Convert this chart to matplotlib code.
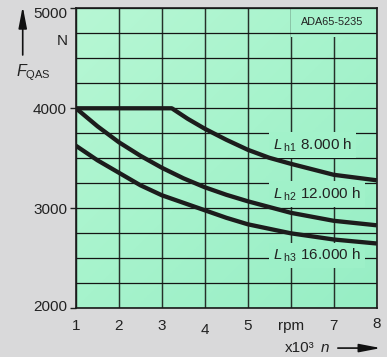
import numpy as np
import matplotlib
matplotlib.use("Agg")
import matplotlib.pyplot as plt
from matplotlib.colors import LinearSegmentedColormap
from matplotlib.transforms import ScaledTranslation

plt.rcParams['font.family'] = ['Liberation Sans', 'DejaVu Sans']
plt.rcParams['mathtext.fontset'] = 'custom'
plt.rcParams['mathtext.rm'] = 'Liberation Sans'
plt.rcParams['mathtext.it'] = 'Liberation Sans:italic'
plt.rcParams['mathtext.bf'] = 'Liberation Sans:bold'

# ---- data ----
n_h1 = [1, 3.23, 3.6, 4, 4.5, 5, 5.5, 6, 7, 8]
f_h1 = [4000, 4000, 3895, 3795, 3685, 3585, 3505, 3445, 3335, 3280]

n_h2 = [1, 1.5, 2, 2.5, 3, 3.5, 4, 4.5, 5, 6, 7, 8]
f_h2 = [4000, 3820, 3660, 3525, 3405, 3300, 3210, 3135, 3070, 2955, 2875, 2830]

n_h3 = [1, 1.5, 2, 2.5, 3, 3.5, 4, 4.5, 5, 6, 7, 8]
f_h3 = [3625, 3480, 3355, 3230, 3130, 3055, 2980, 2905, 2840, 2750, 2688, 2648]

x_ticks = [1, 2, 3, 4, 5, 6, 7, 8]
x_ticklabels = ['1', '2', '3', '4', '5', 'rpm', '7', '8']
y_ticks = [2000, 3000, 4000, 5000]
y_ticklabels = ['2000', '3000', '4000', '5000']

curve_labels = [r"$L_{\;\mathrm{h1}}$ 8.000 h", r"$L_{\;\mathrm{h2}}$ 12.000 h", r"$L_{\;\mathrm{h3}}$ 16.000 h"]
label_x = [5.59, 5.59, 5.59]
label_y = [3590, 3100, 2483]

# ---- figure ----
fig = plt.figure(figsize=(3.87, 3.57), dpi=100)
fig.patch.set_facecolor('#d9d9da')
ax = fig.add_axes([0.1964, 0.1364, 0.777, 0.8404])
ax.set_xlim(1, 8)
ax.set_ylim(2000, 5000)

# gradient background
cmap = LinearSegmentedColormap.from_list('g', ['#b7f7d4', '#a6f3cc', '#97eec5'])
gx, gy = np.meshgrid(np.linspace(0, 1, 200), np.linspace(0, 1, 200))
grad = (gx + gy) / 2
ax.imshow(grad, cmap=cmap, extent=[0, 1, 0, 1], transform=ax.transAxes,
          aspect='auto', zorder=0, origin='upper')


def bg_at(xd, yd):
    fx, fy = ax.transLimits.transform((xd, yd))
    return cmap((fx + (1 - fy)) / 2)


# grid
ax.set_axisbelow(True)
ax.set_yticks(np.arange(2250, 5000, 250), minor=True)
ax.set_xticks(x_ticks)
ax.set_xticklabels(x_ticklabels)
ax.set_xticks([1, 8], minor=True)
ax.set_yticks(y_ticks)
ax.set_yticklabels(y_ticklabels)
ax.grid(True, which='major', axis='x', color='#25302a', lw=1.05)
ax.grid(True, which='both', axis='y', color='#151515', lw=0.9)
ax.xaxis.set_zorder(1.5)
ax.yaxis.set_zorder(1.9)

ax.tick_params(axis='x', which='major', length=0, pad=7.5, labelsize=11, labelcolor='#222222')
ax.tick_params(axis='x', which='minor', length=3.8, width=1.0, color='#222222', direction='out')
ax.tick_params(axis='y', which='major', length=4.3, width=1.0, pad=2.2, labelsize=11,
               color='#222222', labelcolor='#222222', direction='out')
ax.tick_params(axis='y', which='minor', length=0)

# small per-label offsets
for lab in ax.get_xticklabels():
    if lab.get_text() == '4':
        lab.set_transform(lab.get_transform() + ScaledTranslation(0, -3/72, fig.dpi_scale_trans))
    if lab.get_text() == '8':
        lab.set_transform(lab.get_transform() + ScaledTranslation(0, 1/72, fig.dpi_scale_trans))
for lab in ax.get_yticklabels():
    if lab.get_text() == '5000':
        lab.set_transform(lab.get_transform() + ScaledTranslation(0, -3/72, fig.dpi_scale_trans))
    if lab.get_text() == '2000':
        lab.set_transform(lab.get_transform() + ScaledTranslation(0, 2/72, fig.dpi_scale_trans))

for sp in ax.spines.values():
    sp.set_color('#1a1a1a')
    sp.set_linewidth(1.2)
    sp.set_zorder(4)

# curves
for xs, ys in [(n_h1, f_h1), (n_h2, f_h2), (n_h3, f_h3)]:
    ax.plot(xs, ys, color='#1c1c1c', lw=3.1, solid_capstyle='butt', solid_joinstyle='round', zorder=3.5)

# curve labels
for txt, lx, ly in zip(curve_labels, label_x, label_y):
    ax.text(lx, ly, txt, fontsize=11, color='#222222', ha='left', va='baseline', zorder=2.5,
            bbox=dict(boxstyle='square,pad=0.25', fc=bg_at(lx + 1.0, ly + 60), ec='none'))

# code label
ax.text(7.68, 4863, 'ADA65-5235', fontsize=7.8, color='#222222', ha='right', va='center',
        zorder=1.7, bbox=dict(boxstyle='square,pad=0.9', fc=bg_at(7.2, 4870), ec='none'))

# y-axis label and arrow
fig.text(0.1615, 0.8838, 'N', fontsize=11, color='#222222', ha='center', va='center')
fig.text(0.042, 0.787, r"$F_{\mathrm{QAS}}$", fontsize=11.5, color='#222222', ha='left', va='baseline')
ax.annotate('', xy=(0.0587, 0.982), xytext=(0.0587, 0.846), xycoords='figure fraction',
            textcoords='figure fraction',
            arrowprops=dict(arrowstyle='-|>,head_length=1.3,head_width=0.25', mutation_scale=10,
                            color='#111111', lw=1.2, shrinkA=0, shrinkB=0))

# x-axis label and arrow
fig.text(0.737, 0.026, 'x10³', fontsize=11, color='#222222', ha='left', va='center')
fig.text(0.828, 0.026, 'n', fontsize=11, style='italic', color='#222222', ha='left', va='center')
ax.annotate('', xy=(0.984, 0.025), xytext=(0.873, 0.025), xycoords='figure fraction',
            textcoords='figure fraction',
            arrowprops=dict(arrowstyle='-|>,head_length=1.3,head_width=0.25', mutation_scale=10,
                            color='#111111', lw=1.2, shrinkA=0, shrinkB=0))

fig.savefig('out.png', dpi=100, facecolor=fig.get_facecolor())
